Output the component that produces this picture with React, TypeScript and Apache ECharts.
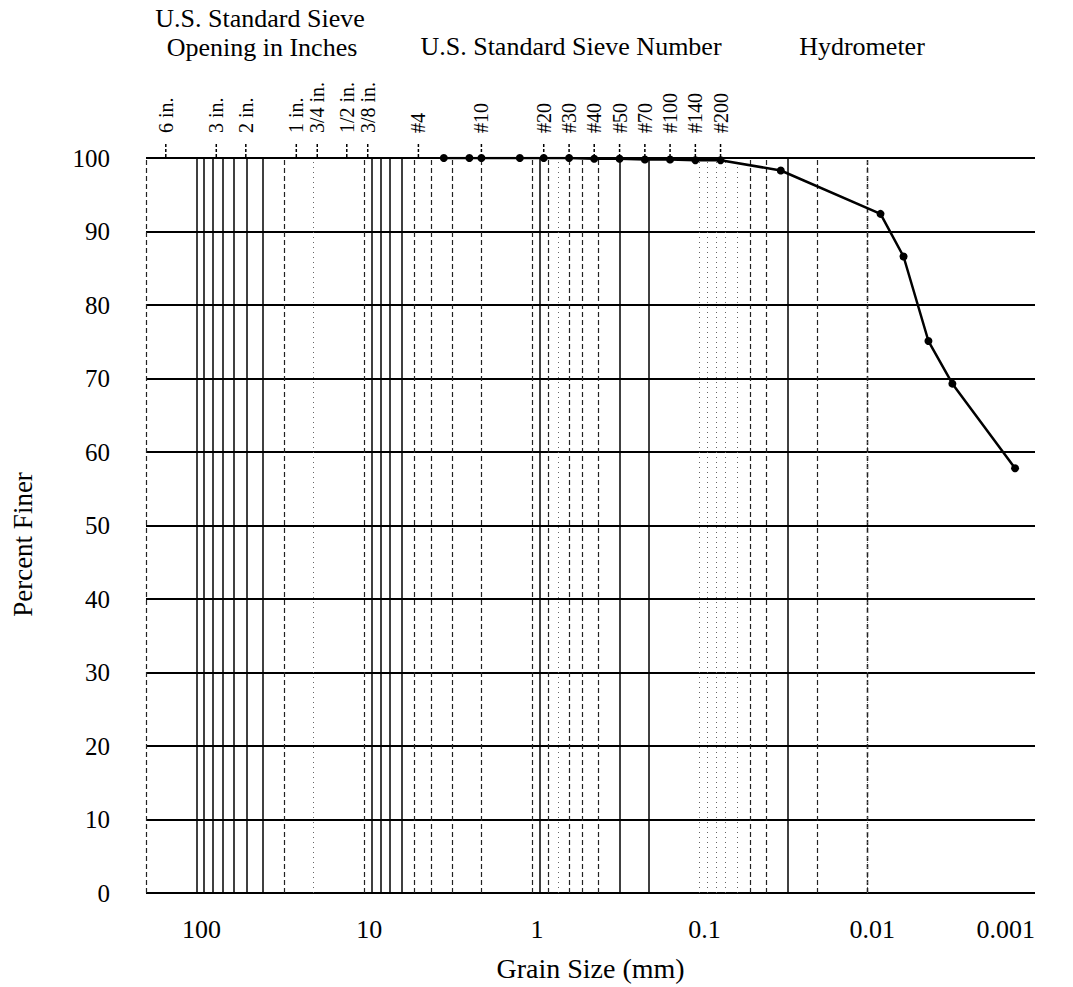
import React, { useEffect, useRef } from 'react';
import * as echarts from 'echarts';

// Sieve analysis points (grain size in mm, percent finer)
const sieveSizes = [3.35, 2.36, 2.0, 1.18, 0.85, 0.6, 0.425, 0.3, 0.212, 0.15, 0.106, 0.075];
const sievePercent = [100, 100, 100, 100, 100, 100, 99.9, 99.9, 99.8, 99.8, 99.7, 99.7];
// Hydrometer points
const hydroSizes = [0.0328, 0.00834, 0.00608, 0.00432, 0.00311, 0.001315];
const hydroPercent = [98.3, 92.4, 86.6, 75.1, 69.3, 57.8];

// Top sieve marks
const topMarkSizes = [152.4, 76.2, 50.8, 25.4, 19.05, 12.7, 9.525, 4.75, 2.0, 0.85, 0.6, 0.425, 0.3, 0.212, 0.15, 0.106, 0.075];
const topMarkLabels = ['6 in.', '3 in.', '2 in.', '1 in.', '3/4 in.', '1/2 in.', '3/8 in.', '#4', '#10', '#20', '#30', '#40', '#50', '#70', '#100', '#140', '#200'];

// Axis ticks
const xTickValues = [100, 10, 1, 0.1, 0.01, 0.001];
const xTickLabels = ['100', '10', '1', '0.1', '0.01', '0.001'];
const xMin = 0.001;
const xMax = 200;
const yMin = 0;
const yMax = 100;
const yInterval = 10;

// Log-paper vertical grid lines
const solidGrid = [100, 90, 80, 70, 60, 50, 40, 9, 8, 7, 6, 0.9, 0.3, 0.2, 0.03];
const dashedGrid = [200, 30, 10, 5, 4, 3, 2, 1, 0.8, 0.6, 0.5, 0.4, 0.05, 0.04, 0.02, 0.01, 0.006, 0.005, 0.004, 0.003, 0.001];
const dottedGrid = [20, 0.7, 0.1, 0.09, 0.08, 0.07, 0.06, 0.009, 0.008, 0.007, 0.002];

const FONT = '"Liberation Serif", "Times New Roman", serif';

export default function App() {
  const ref = useRef<HTMLDivElement>(null);

  useEffect(() => {
    document.body.style.margin = '0';
    if (!ref.current) return;
    const chart = echarts.init(ref.current, undefined, { renderer: 'svg' });

    const curve = [
      ...sieveSizes.map((s, i) => [s, sievePercent[i]]),
      ...hydroSizes.map((s, i) => [s, hydroPercent[i]]),
    ];

    const gridLines = [
      ...solidGrid.map((v) => ({ xAxis: v, lineStyle: { color: '#000', width: 1.5, type: 'solid' } })),
      ...dashedGrid.map((v) => ({ xAxis: v, lineStyle: { color: '#222', width: 1.2, type: [5, 3] } })),
      ...dottedGrid.map((v) => ({ xAxis: v, lineStyle: { color: '#666', width: 1, type: [1, 4] } })),
    ];

    const titleStyle = { fontFamily: FONT, fontSize: 26, fill: '#000', align: 'center', verticalAlign: 'middle' };

    const option: any = {
      animation: false,
      grid: { left: 146, right: 38, top: 158, bottom: 93 },
      xAxis: {
        type: 'log',
        logBase: 10,
        min: xMin,
        max: xMax,
        inverse: true,
        name: 'Grain Size (mm)',
        nameLocation: 'middle',
        nameGap: 61,
        nameTextStyle: { fontFamily: FONT, fontSize: 28, color: '#000' },
        axisLine: { show: false },
        axisTick: { show: false },
        splitLine: { show: false },
        axisLabel: {
          fontFamily: FONT,
          fontSize: 26,
          color: '#000',
          margin: 23,
          padding: [0, 0, 0, 10],
          alignMinLabel: 'right',
          formatter: (v: number) => {
            const l = Math.log10(v);
            if (Math.abs(l - Math.round(l)) > 1e-6) return '';
            const idx = xTickValues.findIndex((t) => Math.abs(Math.log10(t) - l) < 1e-6);
            return idx >= 0 ? xTickLabels[idx] : '';
          },
        },
      },
      yAxis: {
        type: 'value',
        min: yMin,
        max: yMax,
        interval: yInterval,
        name: 'Percent Finer',
        nameLocation: 'middle',
        nameGap: 110,
        nameTextStyle: { fontFamily: FONT, fontSize: 27, color: '#000', padding: [0, 38, 0, 0] },
        axisLine: { show: false },
        axisTick: { show: false },
        axisLabel: {
          fontFamily: FONT,
          fontSize: 25,
          color: '#000',
          margin: 36,
          padding: [20, 0, 0, 0],
        },
        splitLine: { show: true, lineStyle: { color: '#000', width: 2 } },
      },
      graphic: [
        { type: 'text', x: 260, y: 18, style: { ...titleStyle, text: 'U.S. Standard Sieve' } },
        { type: 'text', x: 262, y: 47, style: { ...titleStyle, text: 'Opening in Inches' } },
        { type: 'text', x: 571, y: 46, style: { ...titleStyle, text: 'U.S. Standard Sieve Number' } },
        { type: 'text', x: 862, y: 46, style: { ...titleStyle, text: 'Hydrometer' } },
      ],
      series: [
        {
          type: 'line',
          data: [],
          z: 1,
          silent: true,
          markLine: {
            silent: true,
            symbol: ['none', 'none'],
            label: { show: false },
            animation: false,
            data: gridLines,
          },
        },
        {
          type: 'custom',
          coordinateSystem: 'cartesian2d',
          clip: false,
          silent: true,
          data: topMarkSizes.map((s) => [s, yMax]),
          encode: { x: 0, y: 1 },
          renderItem: (params: any, api: any) => {
            const p = api.coord([api.value(0), api.value(1)]);
            return {
              type: 'group',
              children: [
                {
                  type: 'line',
                  shape: { x1: p[0], y1: p[1] - 14, x2: p[0], y2: p[1] - 1 },
                  style: { stroke: '#000', lineWidth: 1.5, lineDash: [3, 2] },
                },
                {
                  type: 'text',
                  x: p[0],
                  y: p[1] - 25,
                  rotation: Math.PI / 2,
                  style: {
                    text: topMarkLabels[params.dataIndex],
                    fontFamily: FONT,
                    fontSize: 20,
                    fill: '#000',
                    align: 'left',
                    verticalAlign: 'middle',
                  },
                },
              ],
            };
          },
        },
        {
          type: 'line',
          data: curve,
          z: 5,
          symbol: 'circle',
          symbolSize: 8,
          itemStyle: { color: '#000' },
          lineStyle: { color: '#000', width: 2.5 },
        },
      ],
    };

    chart.setOption(option);
    return () => chart.dispose();
  }, []);

  return <div ref={ref} style={{ width: 1073, height: 987 }} />;
}
